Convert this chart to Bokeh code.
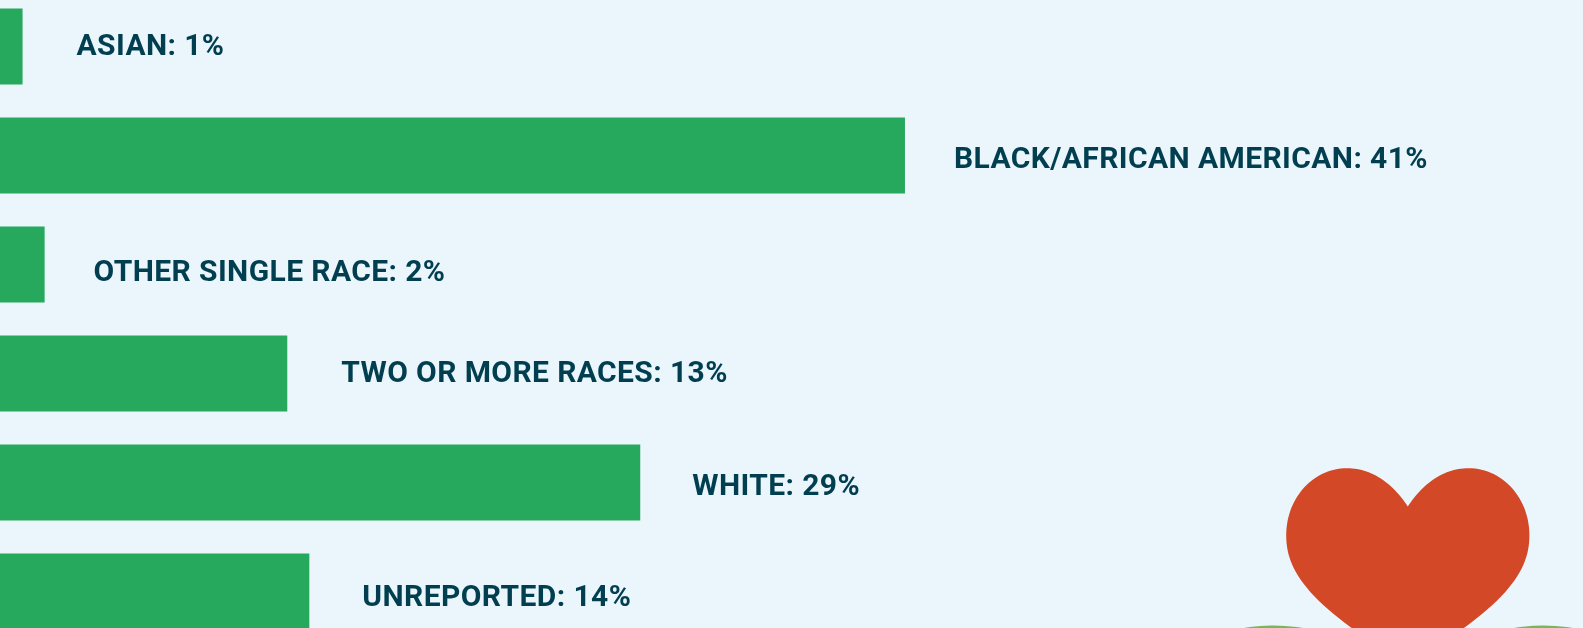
from bokeh.plotting import figure
from bokeh.models import Range1d, ColumnDataSource
from bokeh.core.properties import value
from bokeh.embed import file_html
from bokeh.resources import INLINE

categories = ["ASIAN", "BLACK/AFRICAN AMERICAN", "OTHER SINGLE RACE", "TWO OR MORE RACES", "WHITE", "UNREPORTED"]
percent = [1, 41, 2, 13, 29, 14]
labels = [f"{c}: {v}%" for c, v in zip(categories, percent)]
rows = list(range(len(categories)))

# hand-placed label nudges in the original graphic (screen px)
label_dx = [54, 49, 49, 54, 52, 53]
label_dy = [-2, 2, 6, -2, 2, 4]

W, H = 1583, 628
p = figure(width=W + 1, height=H + 1, output_backend="svg", toolbar_location=None,
           x_axis_location=None, y_axis_location=None,
           x_range=Range1d(-1 / 22.06, W / 22.06), y_range=Range1d((H - 46) / 109, (-1 - 46) / 109),
           min_border=0, min_border_left=0, min_border_right=0, min_border_top=0, min_border_bottom=0,
           background_fill_color="#eaf6fc", border_fill_color="#eaf6fc",
           outline_line_color=None,
           styles={"position": "fixed", "left": "-1px", "top": "-1px", "letter-spacing": "0.4px"})
p.grid.visible = False

src = ColumnDataSource(dict(y=rows, v=percent, t=labels, dx=label_dx, dy=label_dy))
# the bars run off the page's left edge, so their start lies just outside the view
p.hbar(y="y", left=-0.2, right="v", height=76 / 109, source=src, fill_color="#27a95d", line_color=None)
p.text(x="v", y="y", text="t", x_offset="dx", y_offset="dy", source=src,
       text_font=value("Roboto"), text_font_style="bold", text_font_size="30px",
       text_color="#013f50", text_baseline="middle", text_align="left")

# decorative artwork in page pixels
p.extra_x_ranges["px"] = Range1d(-1, W)
p.extra_y_ranges["px"] = Range1d(H, -1)


def bez(p0, c1, c2, p3, n=30):
    out = []
    for i in range(n):
        t = i / n
        u = 1 - t
        out.append((u**3 * p0[0] + 3 * u * u * t * c1[0] + 3 * u * t * t * c2[0] + t**3 * p3[0],
                    u**3 * p0[1] + 3 * u * u * t * c1[1] + 3 * u * t * t * c2[1] + t**3 * p3[1]))
    return out


cx = 1407.3
left = (bez((cx, 506), (1393, 484), (1372, 467.7), (1346.7, 467.7))
        + bez((1346.7, 467.7), (1313, 467.7), (1285.7, 497), (1285.7, 535))
        + bez((1285.7, 535), (1285.7, 572), (1310, 606), (cx, 664)))
right = [(2 * cx - x, y) for x, y in reversed(left)]
outline = left + [(cx, 664)] + right
p.patch([q[0] for q in outline], [q[1] for q in outline], fill_color="#d34827", line_color=None,
        x_range_name="px", y_range_name="px")
p.ellipse(x=[1273, 1543], y=[645, 645], width=122, height=40, fill_color="#7ab55c", line_color=None,
          x_range_name="px", y_range_name="px")

open("out.html", "w").write(file_html(p, INLINE))
